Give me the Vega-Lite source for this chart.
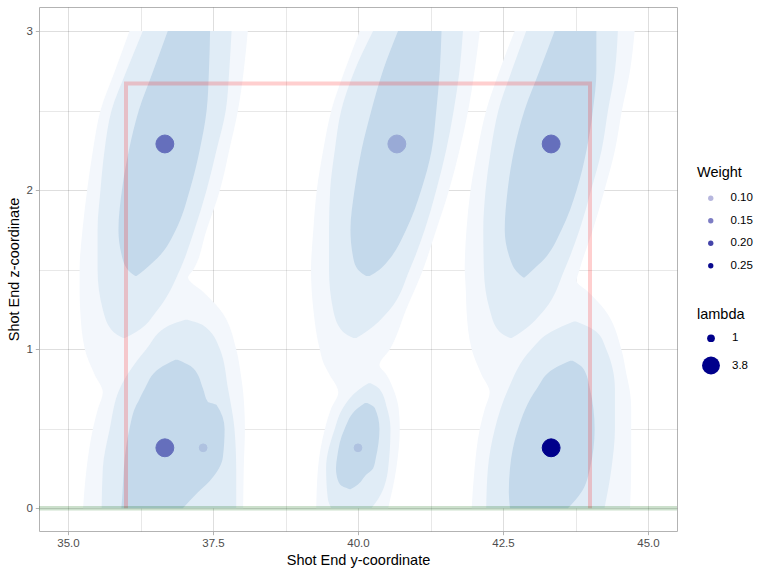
{
  "$schema": "https://vega.github.io/schema/vega-lite/v6.json",
  "width": 638,
  "height": 524,
  "autosize": {"type": "none"},
  "padding": {"left": 39, "top": 7, "right": 91, "bottom": 45},
  "background": "white",
  "datasets": {
    "contours": [
      {"shape": "A", "level": 1, "z": 3.0, "lo": 36.06, "hi": 38.10},
      {"shape": "A", "level": 1, "z": 2.75, "lo": 35.81, "hi": 38.03},
      {"shape": "A", "level": 1, "z": 2.5, "lo": 35.56, "hi": 37.93},
      {"shape": "A", "level": 1, "z": 2.25, "lo": 35.43, "hi": 37.78},
      {"shape": "A", "level": 1, "z": 2.0, "lo": 35.33, "hi": 37.62},
      {"shape": "A", "level": 1, "z": 1.75, "lo": 35.25, "hi": 37.39},
      {"shape": "A", "level": 1, "z": 1.5, "lo": 35.20, "hi": 37.16},
      {"shape": "A", "level": 1, "z": 1.45, "lo": 35.20, "hi": 37.07},
      {"shape": "A", "level": 1, "z": 1.36, "lo": 35.20, "hi": 37.33},
      {"shape": "A", "level": 1, "z": 1.25, "lo": 35.21, "hi": 37.62},
      {"shape": "A", "level": 1, "z": 1.0, "lo": 35.29, "hi": 37.90},
      {"shape": "A", "level": 1, "z": 0.84, "lo": 35.46, "hi": 37.98},
      {"shape": "A", "level": 1, "z": 0.73, "lo": 35.60, "hi": 38.02},
      {"shape": "A", "level": 1, "z": 0.63, "lo": 35.52, "hi": 38.04},
      {"shape": "A", "level": 1, "z": 0.5, "lo": 35.43, "hi": 38.05},
      {"shape": "A", "level": 1, "z": 0.25, "lo": 35.32, "hi": 38.03},
      {"shape": "A", "level": 1, "z": 0.0, "lo": 35.26, "hi": 38.02},

      {"shape": "F", "level": 1, "z": 3.0, "lo": 40.03, "hi": 42.10},
      {"shape": "F", "level": 1, "z": 2.75, "lo": 39.77, "hi": 42.01},
      {"shape": "F", "level": 1, "z": 2.5, "lo": 39.54, "hi": 41.90},
      {"shape": "F", "level": 1, "z": 2.25, "lo": 39.40, "hi": 41.75},
      {"shape": "F", "level": 1, "z": 2.0, "lo": 39.29, "hi": 41.57},
      {"shape": "F", "level": 1, "z": 1.75, "lo": 39.23, "hi": 41.35},
      {"shape": "F", "level": 1, "z": 1.5, "lo": 39.19, "hi": 41.12},
      {"shape": "F", "level": 1, "z": 1.25, "lo": 39.23, "hi": 40.83},
      {"shape": "F", "level": 1, "z": 1.0, "lo": 39.34, "hi": 40.55},
      {"shape": "F", "level": 1, "z": 0.9, "lo": 39.42, "hi": 40.37},
      {"shape": "F", "level": 1, "z": 0.84, "lo": 39.51, "hi": 40.49},
      {"shape": "F", "level": 1, "z": 0.73, "lo": 39.66, "hi": 40.63},
      {"shape": "F", "level": 1, "z": 0.63, "lo": 39.54, "hi": 40.70},
      {"shape": "F", "level": 1, "z": 0.5, "lo": 39.43, "hi": 40.72},
      {"shape": "F", "level": 1, "z": 0.25, "lo": 39.31, "hi": 40.66},
      {"shape": "F", "level": 1, "z": 0.0, "lo": 39.28, "hi": 40.52},

      {"shape": "K", "level": 1, "z": 3.0, "lo": 42.70, "hi": 44.77},
      {"shape": "K", "level": 1, "z": 2.75, "lo": 42.44, "hi": 44.69},
      {"shape": "K", "level": 1, "z": 2.5, "lo": 42.21, "hi": 44.55},
      {"shape": "K", "level": 1, "z": 2.25, "lo": 42.06, "hi": 44.43},
      {"shape": "K", "level": 1, "z": 2.0, "lo": 41.94, "hi": 44.25},
      {"shape": "K", "level": 1, "z": 1.75, "lo": 41.87, "hi": 44.05},
      {"shape": "K", "level": 1, "z": 1.5, "lo": 41.84, "hi": 43.82},
      {"shape": "K", "level": 1, "z": 1.43, "lo": 41.85, "hi": 43.77},
      {"shape": "K", "level": 1, "z": 1.36, "lo": 41.86, "hi": 43.97},
      {"shape": "K", "level": 1, "z": 1.25, "lo": 41.87, "hi": 44.25},
      {"shape": "K", "level": 1, "z": 1.0, "lo": 41.96, "hi": 44.54},
      {"shape": "K", "level": 1, "z": 0.84, "lo": 42.13, "hi": 44.63},
      {"shape": "K", "level": 1, "z": 0.73, "lo": 42.27, "hi": 44.69},
      {"shape": "K", "level": 1, "z": 0.63, "lo": 42.19, "hi": 44.71},
      {"shape": "K", "level": 1, "z": 0.5, "lo": 42.10, "hi": 44.71},
      {"shape": "K", "level": 1, "z": 0.25, "lo": 42.01, "hi": 44.71},
      {"shape": "K", "level": 1, "z": 0.0, "lo": 41.96, "hi": 44.69},

      {"shape": "B", "level": 2, "z": 3.0, "lo": 36.29, "hi": 37.82},
      {"shape": "B", "level": 2, "z": 2.75, "lo": 36.01, "hi": 37.78},
      {"shape": "B", "level": 2, "z": 2.5, "lo": 35.75, "hi": 37.72},
      {"shape": "B", "level": 2, "z": 2.25, "lo": 35.63, "hi": 37.56},
      {"shape": "B", "level": 2, "z": 2.0, "lo": 35.56, "hi": 37.39},
      {"shape": "B", "level": 2, "z": 1.75, "lo": 35.51, "hi": 37.18},
      {"shape": "B", "level": 2, "z": 1.5, "lo": 35.51, "hi": 36.93},
      {"shape": "B", "level": 2, "z": 1.25, "lo": 35.60, "hi": 36.55},
      {"shape": "B", "level": 2, "z": 1.11, "lo": 35.78, "hi": 36.18},
      {"shape": "B", "level": 2, "z": 1.07, "lo": 35.95, "hi": 35.98},

      {"shape": "C", "level": 2, "z": 1.185, "lo": 37.02, "hi": 37.06},
      {"shape": "C", "level": 2, "z": 1.15, "lo": 36.75, "hi": 37.33},
      {"shape": "C", "level": 2, "z": 1.0, "lo": 36.35, "hi": 37.62},
      {"shape": "C", "level": 2, "z": 0.75, "lo": 35.89, "hi": 37.76},
      {"shape": "C", "level": 2, "z": 0.5, "lo": 35.72, "hi": 37.87},
      {"shape": "C", "level": 2, "z": 0.25, "lo": 35.60, "hi": 37.90},
      {"shape": "C", "level": 2, "z": 0.0, "lo": 35.58, "hi": 37.90},

      {"shape": "G", "level": 2, "z": 3.0, "lo": 40.26, "hi": 41.81},
      {"shape": "G", "level": 2, "z": 2.75, "lo": 39.94, "hi": 41.75},
      {"shape": "G", "level": 2, "z": 2.5, "lo": 39.71, "hi": 41.65},
      {"shape": "G", "level": 2, "z": 2.25, "lo": 39.60, "hi": 41.52},
      {"shape": "G", "level": 2, "z": 2.0, "lo": 39.52, "hi": 41.35},
      {"shape": "G", "level": 2, "z": 1.75, "lo": 39.50, "hi": 41.15},
      {"shape": "G", "level": 2, "z": 1.5, "lo": 39.50, "hi": 40.89},
      {"shape": "G", "level": 2, "z": 1.25, "lo": 39.57, "hi": 40.55},
      {"shape": "G", "level": 2, "z": 1.11, "lo": 39.74, "hi": 40.14},
      {"shape": "G", "level": 2, "z": 1.07, "lo": 39.92, "hi": 39.97},

      {"shape": "H", "level": 2, "z": 0.786, "lo": 40.18, "hi": 40.22},
      {"shape": "H", "level": 2, "z": 0.75, "lo": 40.03, "hi": 40.37},
      {"shape": "H", "level": 2, "z": 0.63, "lo": 39.74, "hi": 40.50},
      {"shape": "H", "level": 2, "z": 0.5, "lo": 39.60, "hi": 40.56},
      {"shape": "H", "level": 2, "z": 0.25, "lo": 39.45, "hi": 40.52},
      {"shape": "H", "level": 2, "z": 0.06, "lo": 39.48, "hi": 40.35},
      {"shape": "H", "level": 2, "z": 0.0, "lo": 39.54, "hi": 40.23},

      {"shape": "L", "level": 2, "z": 3.0, "lo": 42.90, "hi": 44.48},
      {"shape": "L", "level": 2, "z": 2.75, "lo": 42.65, "hi": 44.43},
      {"shape": "L", "level": 2, "z": 2.5, "lo": 42.42, "hi": 44.31},
      {"shape": "L", "level": 2, "z": 2.25, "lo": 42.29, "hi": 44.20},
      {"shape": "L", "level": 2, "z": 2.0, "lo": 42.20, "hi": 44.02},
      {"shape": "L", "level": 2, "z": 1.75, "lo": 42.16, "hi": 43.82},
      {"shape": "L", "level": 2, "z": 1.5, "lo": 42.17, "hi": 43.56},
      {"shape": "L", "level": 2, "z": 1.25, "lo": 42.27, "hi": 43.22},
      {"shape": "L", "level": 2, "z": 1.11, "lo": 42.44, "hi": 42.82},
      {"shape": "L", "level": 2, "z": 1.07, "lo": 42.62, "hi": 42.65},

      {"shape": "M", "level": 2, "z": 1.174, "lo": 43.72, "hi": 43.76},
      {"shape": "M", "level": 2, "z": 1.11, "lo": 43.33, "hi": 44.11},
      {"shape": "M", "level": 2, "z": 1.0, "lo": 42.99, "hi": 44.28},
      {"shape": "M", "level": 2, "z": 0.75, "lo": 42.59, "hi": 44.43},
      {"shape": "M", "level": 2, "z": 0.5, "lo": 42.36, "hi": 44.43},
      {"shape": "M", "level": 2, "z": 0.25, "lo": 42.24, "hi": 44.37},
      {"shape": "M", "level": 2, "z": 0.0, "lo": 42.21, "hi": 44.25},

      {"shape": "D", "level": 3, "z": 3.0, "lo": 36.72, "hi": 37.45},
      {"shape": "D", "level": 3, "z": 2.75, "lo": 36.47, "hi": 37.43},
      {"shape": "D", "level": 3, "z": 2.5, "lo": 36.22, "hi": 37.39},
      {"shape": "D", "level": 3, "z": 2.25, "lo": 36.05, "hi": 37.27},
      {"shape": "D", "level": 3, "z": 2.0, "lo": 35.93, "hi": 37.10},
      {"shape": "D", "level": 3, "z": 1.75, "lo": 35.87, "hi": 36.86},
      {"shape": "D", "level": 3, "z": 1.6, "lo": 35.92, "hi": 36.61},
      {"shape": "D", "level": 3, "z": 1.5, "lo": 36.03, "hi": 36.32},
      {"shape": "D", "level": 3, "z": 1.46, "lo": 36.16, "hi": 36.18},

      {"shape": "E", "level": 3, "z": 0.933, "lo": 36.85, "hi": 36.89},
      {"shape": "E", "level": 3, "z": 0.88, "lo": 36.58, "hi": 37.16},
      {"shape": "E", "level": 3, "z": 0.75, "lo": 36.32, "hi": 37.33},
      {"shape": "E", "level": 3, "z": 0.67, "lo": 36.21, "hi": 37.41},
      {"shape": "E", "level": 3, "z": 0.65, "lo": 36.18, "hi": 37.56},
      {"shape": "E", "level": 3, "z": 0.5, "lo": 36.06, "hi": 37.70},
      {"shape": "E", "level": 3, "z": 0.32, "lo": 35.98, "hi": 37.67},
      {"shape": "E", "level": 3, "z": 0.17, "lo": 35.95, "hi": 37.44},
      {"shape": "E", "level": 3, "z": 0.1, "lo": 35.94, "hi": 37.24},
      {"shape": "E", "level": 3, "z": 0.0, "lo": 35.92, "hi": 36.98},

      {"shape": "I", "level": 3, "z": 3.0, "lo": 40.69, "hi": 41.44},
      {"shape": "I", "level": 3, "z": 2.75, "lo": 40.43, "hi": 41.41},
      {"shape": "I", "level": 3, "z": 2.5, "lo": 40.23, "hi": 41.35},
      {"shape": "I", "level": 3, "z": 2.25, "lo": 40.06, "hi": 41.27},
      {"shape": "I", "level": 3, "z": 2.0, "lo": 39.94, "hi": 41.09},
      {"shape": "I", "level": 3, "z": 1.75, "lo": 39.87, "hi": 40.83},
      {"shape": "I", "level": 3, "z": 1.57, "lo": 39.92, "hi": 40.55},
      {"shape": "I", "level": 3, "z": 1.5, "lo": 40.00, "hi": 40.37},
      {"shape": "I", "level": 3, "z": 1.46, "lo": 40.14, "hi": 40.20},

      {"shape": "J", "level": 3, "z": 0.661, "lo": 40.12, "hi": 40.16},
      {"shape": "J", "level": 3, "z": 0.63, "lo": 40.00, "hi": 40.29},
      {"shape": "J", "level": 3, "z": 0.5, "lo": 39.77, "hi": 40.37},
      {"shape": "J", "level": 3, "z": 0.32, "lo": 39.64, "hi": 40.31},
      {"shape": "J", "level": 3, "z": 0.25, "lo": 39.62, "hi": 40.26},
      {"shape": "J", "level": 3, "z": 0.21, "lo": 39.63, "hi": 40.14},
      {"shape": "J", "level": 3, "z": 0.15, "lo": 39.69, "hi": 40.00},
      {"shape": "J", "level": 3, "z": 0.12, "lo": 39.86, "hi": 39.87},

      {"shape": "N", "level": 3, "z": 3.0, "lo": 43.39, "hi": 44.11},
      {"shape": "N", "level": 3, "z": 2.75, "lo": 43.13, "hi": 44.11},
      {"shape": "N", "level": 3, "z": 2.5, "lo": 42.87, "hi": 44.05},
      {"shape": "N", "level": 3, "z": 2.25, "lo": 42.69, "hi": 43.94},
      {"shape": "N", "level": 3, "z": 2.0, "lo": 42.58, "hi": 43.77},
      {"shape": "N", "level": 3, "z": 1.75, "lo": 42.53, "hi": 43.51},
      {"shape": "N", "level": 3, "z": 1.57, "lo": 42.62, "hi": 43.22},
      {"shape": "N", "level": 3, "z": 1.49, "lo": 42.73, "hi": 42.99},
      {"shape": "N", "level": 3, "z": 1.45, "lo": 42.85, "hi": 42.87},

      {"shape": "O", "level": 3, "z": 0.927, "lo": 43.66, "hi": 43.70},
      {"shape": "O", "level": 3, "z": 0.88, "lo": 43.39, "hi": 43.88},
      {"shape": "O", "level": 3, "z": 0.75, "lo": 43.08, "hi": 44.00},
      {"shape": "O", "level": 3, "z": 0.5, "lo": 42.76, "hi": 44.08},
      {"shape": "O", "level": 3, "z": 0.25, "lo": 42.62, "hi": 44.00},
      {"shape": "O", "level": 3, "z": 0.1, "lo": 42.60, "hi": 43.85},
      {"shape": "O", "level": 3, "z": 0.0, "lo": 42.62, "hi": 43.62}
    ],
    "goal": [
      {"step": 1, "y": 36, "z": 0},
      {"step": 2, "y": 36, "z": 2.67},
      {"step": 3, "y": 44, "z": 2.67},
      {"step": 4, "y": 44, "z": 0}
    ],
    "ground": [
      {"z": 0}
    ],
    "shots": [
      {"y": 36.67, "z": 2.29, "weight": 0.145, "lambda": 3.8},
      {"y": 40.67, "z": 2.29, "weight": 0.085, "lambda": 3.8},
      {"y": 43.33, "z": 2.29, "weight": 0.145, "lambda": 3.8},
      {"y": 36.67, "z": 0.38, "weight": 0.145, "lambda": 3.8},
      {"y": 37.33, "z": 0.38, "weight": 0.06, "lambda": 1},
      {"y": 40.0, "z": 0.38, "weight": 0.06, "lambda": 1},
      {"y": 43.33, "z": 0.38, "weight": 0.26, "lambda": 3.8}
    ]
  },
  "layer": [
    {
      "data": {"name": "contours"},
      "transform": [{"filter": "datum.level == 1"}],
      "mark": {"type": "area", "orient": "horizontal", "interpolate": "monotone", "color": "#f3f7fc"},
      "encoding": {
        "x": {
          "field": "lo", "type": "quantitative",
          "scale": {"domain": [34.5, 45.5], "nice": false, "zero": false},
          "title": "Shot End y-coordinate",
          "axis": {
            "values": [35, 36.25, 37.5, 38.75, 40, 41.25, 42.5, 43.75, 45],
            "labelExpr": "(datum.value - 35) % 2.5 == 0 ? format(datum.value, '.1f') : ''",
            "tickOpacity": {"condition": {"test": "(datum.value - 35) % 2.5 != 0", "value": 0}, "value": 1},
            "gridWidth": {"condition": {"test": "(datum.value - 35) % 2.5 != 0", "value": 0.7}, "value": 1},
            "labelOverlap": false,
            "labelFlush": false,
            "titlePadding": 4
          }
        },
        "x2": {"field": "hi"},
        "y": {
          "field": "z", "type": "quantitative",
          "scale": {"domain": [-0.143, 3.151], "nice": false, "zero": false},
          "title": "Shot End z-coordinate",
          "axis": {
            "values": [0, 0.5, 1, 1.5, 2, 2.5, 3],
            "labelExpr": "datum.value % 1 == 0 ? format(datum.value, 'd') : ''",
            "tickOpacity": {"condition": {"test": "datum.value % 1 != 0", "value": 0}, "value": 1},
            "gridWidth": {"condition": {"test": "datum.value % 1 != 0", "value": 0.7}, "value": 1},
            "labelOverlap": false,
            "labelFlush": false,
            "titlePadding": 4
          }
        },
        "detail": {"field": "shape"}
      }
    },
    {
      "data": {"name": "contours"},
      "transform": [{"filter": "datum.level == 2"}],
      "mark": {"type": "area", "orient": "horizontal", "interpolate": "monotone", "color": "#e0ecf6"},
      "encoding": {
        "x": {"field": "lo", "type": "quantitative", "title": "Shot End y-coordinate"},
        "x2": {"field": "hi"},
        "y": {"field": "z", "type": "quantitative", "title": "Shot End z-coordinate"},
        "detail": {"field": "shape"}
      }
    },
    {
      "data": {"name": "contours"},
      "transform": [{"filter": "datum.level == 3"}],
      "mark": {"type": "area", "orient": "horizontal", "interpolate": "monotone", "color": "#c4d9eb"},
      "encoding": {
        "x": {"field": "lo", "type": "quantitative", "title": "Shot End y-coordinate"},
        "x2": {"field": "hi"},
        "y": {"field": "z", "type": "quantitative", "title": "Shot End z-coordinate"},
        "detail": {"field": "shape"}
      }
    },
    {
      "data": {"name": "goal"},
      "mark": {"type": "line", "color": "red", "opacity": 0.19, "strokeWidth": 4, "strokeJoin": "miter"},
      "encoding": {
        "x": {"field": "y", "type": "quantitative", "title": "Shot End y-coordinate"},
        "y": {"field": "z", "type": "quantitative", "title": "Shot End z-coordinate"},
        "order": {"field": "step"}
      }
    },
    {
      "data": {"name": "ground"},
      "mark": {"type": "rule", "color": "#006400", "opacity": 0.2, "strokeWidth": 4.5},
      "encoding": {
        "y": {"field": "z", "type": "quantitative", "title": "Shot End z-coordinate"}
      }
    },
    {
      "data": {"name": "shots"},
      "mark": {"type": "point", "filled": true, "shape": "circle", "color": "#00008b", "stroke": "#00008b", "strokeWidth": 1},
      "encoding": {
        "x": {"field": "y", "type": "quantitative", "title": "Shot End y-coordinate"},
        "y": {"field": "z", "type": "quantitative", "title": "Shot End z-coordinate"},
        "opacity": {
          "field": "weight", "type": "quantitative",
          "scale": {"domain": [0.06, 0.26], "range": [0.1, 1]},
          "legend": {
            "title": "Weight",
            "values": [0.10, 0.15, 0.20, 0.25],
            "format": ".2f",
            "orient": "none",
            "legendX": 658,
            "legendY": 159,
            "symbolType": "circle",
            "symbolSize": 28,
            "symbolFillColor": "#00008b",
            "symbolStrokeColor": "#00008b",
            "symbolStrokeWidth": 0.8,
            "symbolOffset": 8,
            "labelOffset": 14,
            "rowPadding": 9.5,
            "titlePadding": 12
          }
        },
        "size": {
          "field": "lambda", "type": "quantitative",
          "scale": {"domain": [1, 3.8], "range": [60, 320]},
          "legend": {
            "title": "lambda",
            "values": [1, 3.8],
            "format": "~g",
            "orient": "none",
            "legendX": 658,
            "legendY": 301,
            "symbolType": "circle",
            "symbolFillColor": "#00008b",
            "symbolStrokeWidth": 0,
            "symbolOpacity": 1,
            "symbolOffset": 5,
            "labelOffset": 12,
            "rowPadding": 12,
            "titlePadding": 10
          }
        }
      }
    }
  ],
  "config": {
    "font": "Liberation Sans",
    "view": {"stroke": "#b3b3b3", "strokeWidth": 1},
    "axis": {
      "domain": false,
      "labelColor": "#4d4d4d",
      "labelFontSize": 11.5,
      "labelPadding": 3,
      "titleFontSize": 14.5,
      "titleFontWeight": "normal",
      "titleColor": "#000000",
      "tickColor": "#b3b3b3",
      "tickSize": 3.7,
      "gridColor": "#000000",
      "gridOpacity": 0.13,
      "zindex": 1
    },
    "legend": {
      "titleFontSize": 14.5,
      "titleFontWeight": "normal",
      "titleColor": "#000000",
      "labelFontSize": 11.5,
      "labelColor": "#000000",
      "padding": 0
    }
  }
}
